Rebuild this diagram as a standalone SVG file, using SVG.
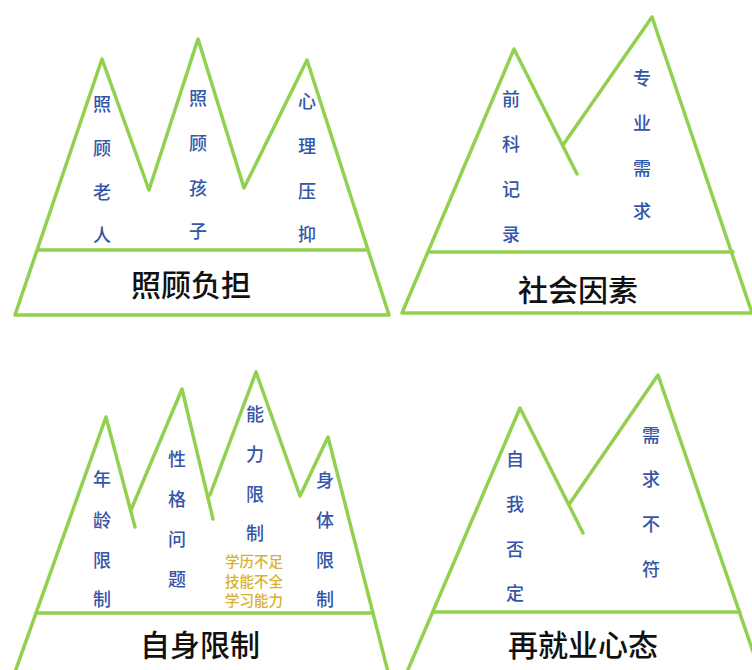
<svg xmlns="http://www.w3.org/2000/svg" width="752" height="670" viewBox="0 0 752 670">
<style>
.m{fill:none;stroke:#92d050;stroke-width:3.5;stroke-linejoin:round;stroke-linecap:round}
.v{font-family:"Noto Sans CJK SC","Noto Sans",sans-serif;font-size:18px;font-weight:500;fill:#3556a8;text-anchor:middle;dominant-baseline:central}
.y{font-family:"Noto Sans CJK SC","Noto Sans",sans-serif;font-size:14.5px;font-weight:500;fill:#d9b12a;text-anchor:middle;dominant-baseline:central}
.t{font-family:"Noto Sans CJK SC","Noto Sans",sans-serif;font-size:30px;font-weight:500;fill:#111;text-anchor:middle;dominant-baseline:central}
</style>
<rect width="752" height="670" fill="#fff"/>
<g id="connectors">
</g>
<g id="care-burden">
<path class="m" d="M15,315 L102,59 L149,190 L198,39 L244,188 L307,60 L389,315 Z"/>
<line class="m" x1="38" y1="250" x2="368" y2="250"/>
<text class="v" x="102"><tspan x="102" y="103">照</tspan><tspan x="102" y="147">顾</tspan><tspan x="102" y="191">老</tspan><tspan x="102" y="234">人</tspan></text>
<text class="v"><tspan x="198" y="97">照</tspan><tspan x="198" y="142">顾</tspan><tspan x="198" y="187">孩</tspan><tspan x="198" y="230">子</tspan></text>
<text class="v"><tspan x="307" y="100">心</tspan><tspan x="307" y="145">理</tspan><tspan x="307" y="190">压</tspan><tspan x="307" y="233">抑</tspan></text>
<text class="t" x="191" y="283">照顾负担</text>
</g>
<g id="social-factors">
<path class="m" d="M577,174 L514,49 L402,313 L752,313 L652,17 L563,145"/>
<line class="m" x1="430" y1="252" x2="733" y2="252"/>
<text class="v"><tspan x="511" y="98">前</tspan><tspan x="511" y="143">科</tspan><tspan x="511" y="188">记</tspan><tspan x="511" y="233">录</tspan></text>
<text class="v"><tspan x="642" y="77">专</tspan><tspan x="642" y="122">业</tspan><tspan x="642" y="167">需</tspan><tspan x="642" y="210">求</tspan></text>
<text class="t" x="578" y="288">社会因素</text>
</g>
<g id="self-limits">
<path class="m" d="M15,672 L106,417 L135,527"/>
<path class="m" d="M131,510 L182,389 L213,519"/>
<path class="m" d="M210,495 L256,372 L300,496 L328,437 L388,672"/>
<line class="m" x1="36" y1="613" x2="373" y2="613"/>
<text class="v"><tspan x="102" y="478">年</tspan><tspan x="102" y="519">龄</tspan><tspan x="102" y="559">限</tspan><tspan x="102" y="598">制</tspan></text>
<text class="v"><tspan x="177" y="458">性</tspan><tspan x="177" y="498">格</tspan><tspan x="177" y="538">问</tspan><tspan x="177" y="578">题</tspan></text>
<text class="v"><tspan x="255" y="413">能</tspan><tspan x="255" y="453">力</tspan><tspan x="255" y="493">限</tspan><tspan x="255" y="532">制</tspan></text>
<text class="y"><tspan x="254" y="560">学历不足</tspan><tspan x="254" y="580">技能不全</tspan><tspan x="254" y="599">学习能力</tspan></text>
<text class="v"><tspan x="325" y="479">身</tspan><tspan x="325" y="519">体</tspan><tspan x="325" y="559">限</tspan><tspan x="325" y="598">制</tspan></text>
<text class="t" x="200" y="643">自身限制</text>
</g>
<g id="reemployment-mindset">
<path class="m" d="M583,533 L520,408 L407,672"/>
<path class="m" d="M570,503 L658,375 L760,672"/>
<line class="m" x1="434" y1="612" x2="740" y2="612"/>
<text class="v"><tspan x="515" y="458">自</tspan><tspan x="515" y="503">我</tspan><tspan x="515" y="548">否</tspan><tspan x="515" y="592">定</tspan></text>
<text class="v"><tspan x="651" y="434">需</tspan><tspan x="651" y="478">求</tspan><tspan x="651" y="523">不</tspan><tspan x="651" y="568">符</tspan></text>
<text class="t" x="583" y="643">再就业心态</text>
</g>
</svg>
